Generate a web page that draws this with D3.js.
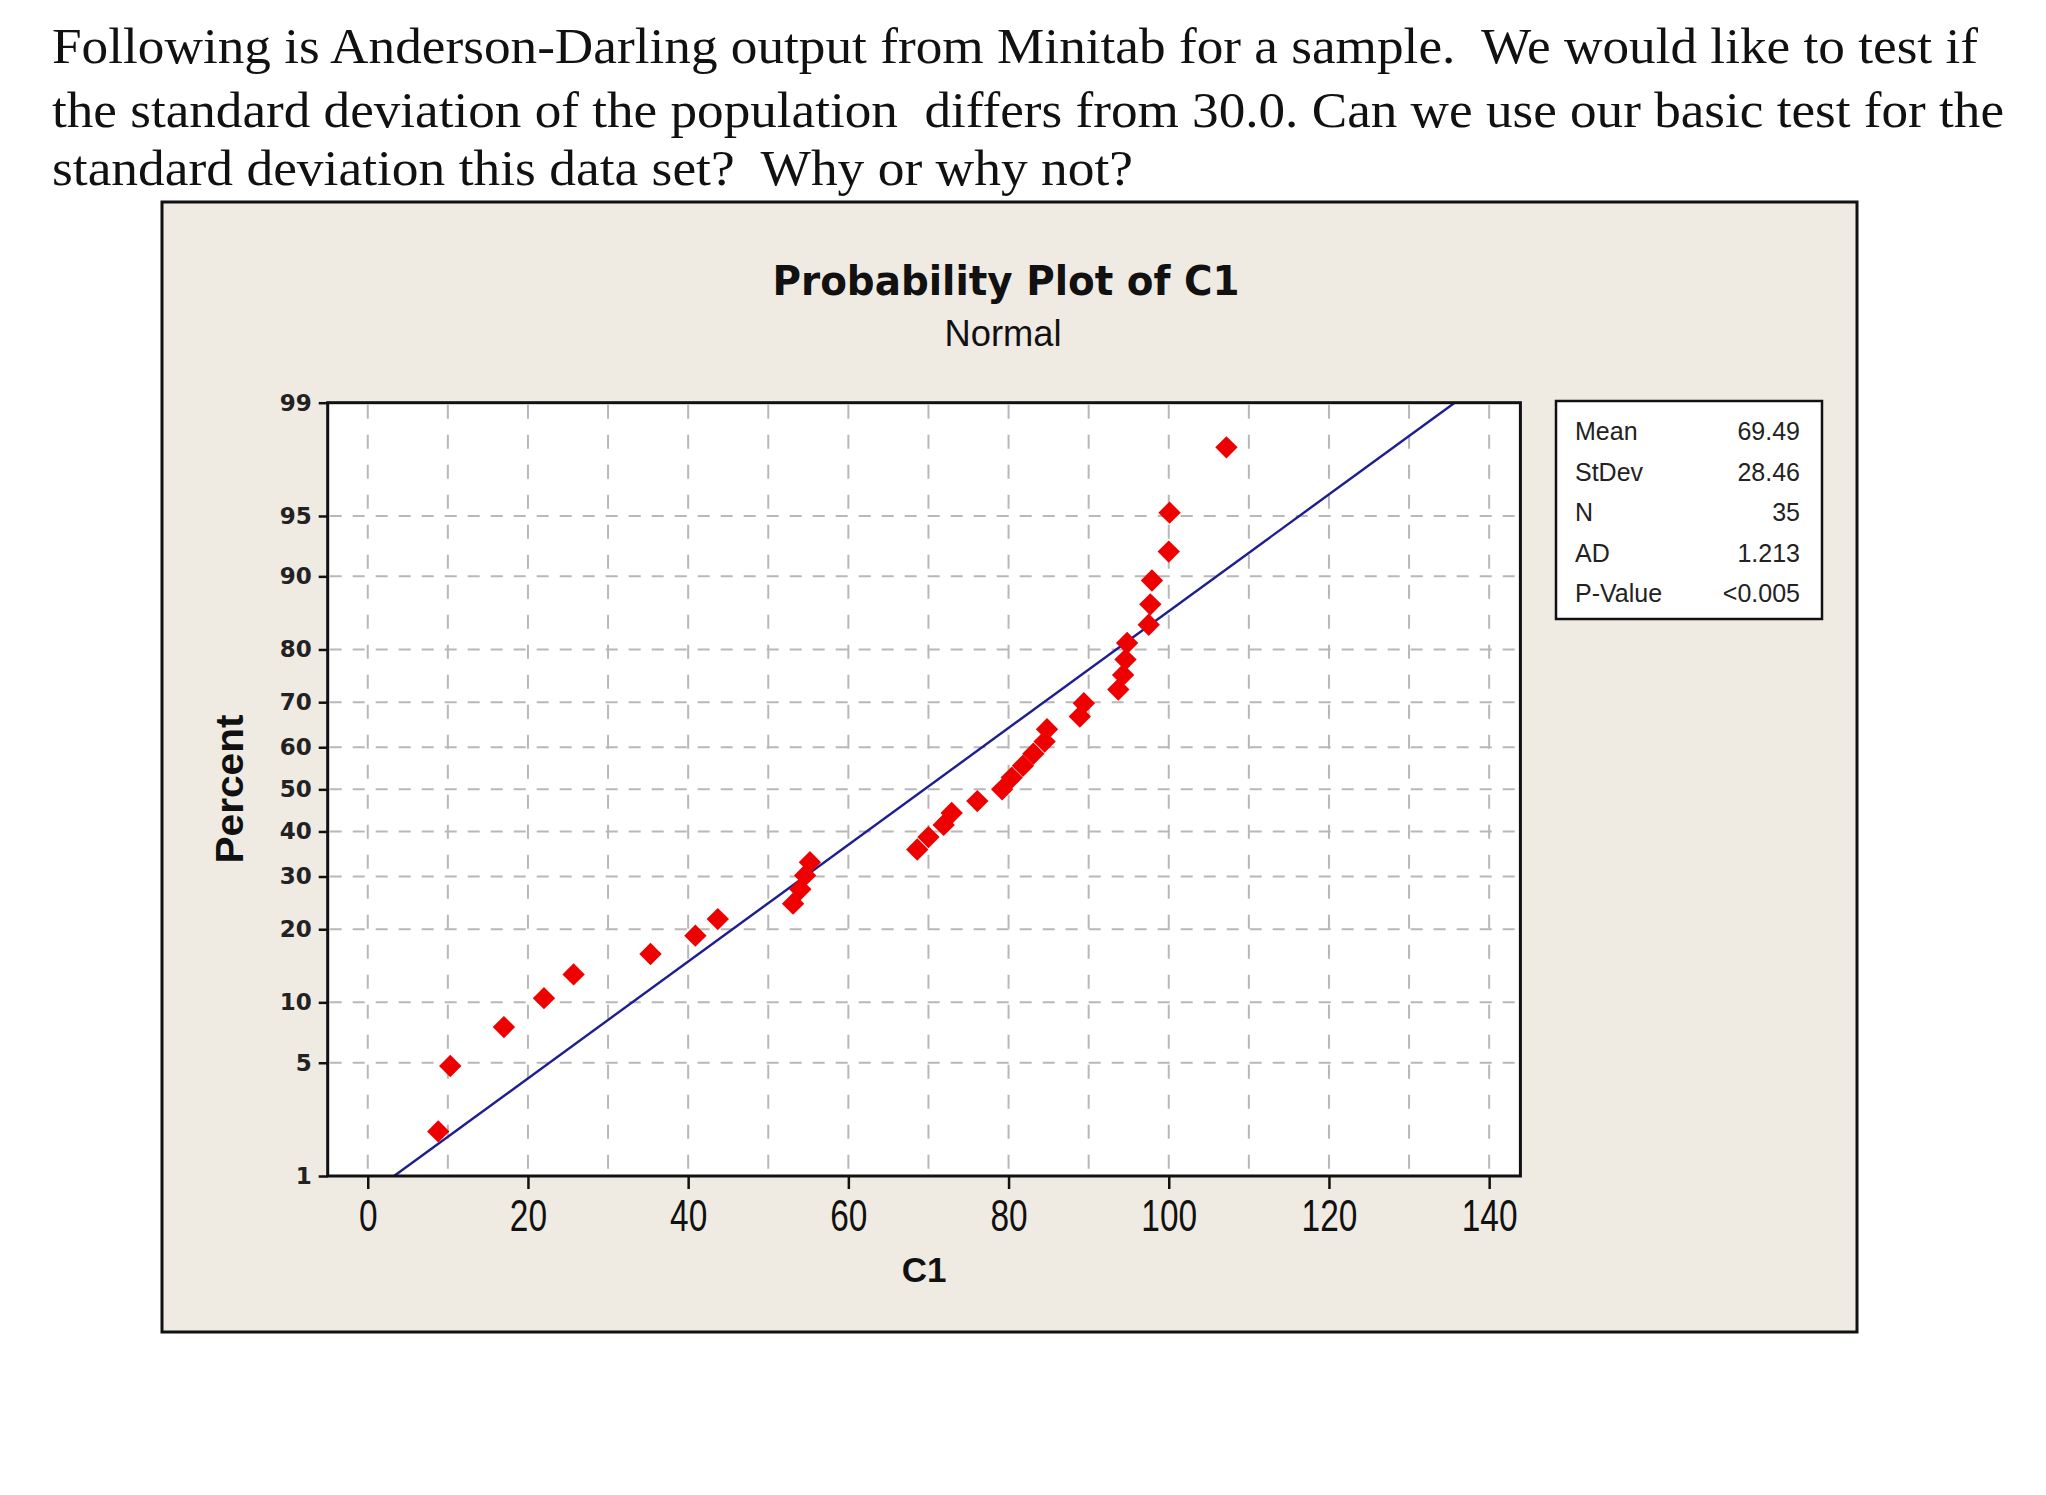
<!DOCTYPE html>
<html>
<head>
<meta charset="utf-8">
<script src="https://cdn.jsdelivr.net/npm/d3@7"></script>
<style>
  html, body { margin: 0; padding: 0; background: #ffffff; }
  svg { display: block; }
  text { white-space: pre; }
</style>
</head>
<body>
<svg id="chart" width="2046" height="1495"></svg>
<script>
// ---------------- DATA ----------------
const questionLines = [
  "Following is Anderson-Darling output from Minitab for a sample.  We would like to test if",
  "the standard deviation of the population  differs from 30.0. Can we use our basic test for the",
  "standard deviation this data set?  Why or why not?"
];
const chartTitle = "Probability Plot of C1";
const chartSubtitle = "Normal";
const xLabel = "C1";
const yLabel = "Percent";

// sample values (C1), sorted
const c1Values = [8.8, 10.3, 17.0, 22.0, 25.7, 35.3, 40.9, 43.7, 53.1, 54.0,
                  54.6, 55.2, 68.6, 70.0, 71.9, 72.9, 76.1, 79.2, 80.4, 81.8,
                  83.1, 84.5, 84.8, 88.9, 89.4, 93.7, 94.3, 94.6, 94.8, 97.5,
                  97.7, 97.9, 100.0, 100.1, 107.2];
// plotted percent for each point
const c1Percents = [1.98, 4.80, 7.63, 10.45, 13.28, 16.10, 18.93, 21.75, 24.58, 27.40,
                    30.23, 33.05, 35.88, 38.70, 41.53, 44.35, 47.18, 50.00, 52.82, 55.65,
                    58.47, 61.30, 64.12, 66.95, 69.77, 72.60, 75.42, 78.25, 81.07, 83.90,
                    86.72, 89.55, 92.37, 95.20, 98.02];

const xTickValues = [0, 20, 40, 60, 80, 100, 120, 140];
const xGridValues = [0, 10, 20, 30, 40, 50, 60, 70, 80, 90, 100, 110, 120, 130, 140];
const yTickValues = [1, 5, 10, 20, 30, 40, 50, 60, 70, 80, 90, 95, 99];
const yGridValues = [5, 10, 20, 30, 40, 50, 60, 70, 80, 90, 95];

const statLabels = ["Mean", "StDev", "N", "AD", "P-Value"];
const statValues = ["69.49", "28.46", "35", "1.213", "<0.005"];
const fitMean = 69.49;
const fitStDev = 28.46;
const fitPercentRange = [1, 99];

// ---------------- HELPERS ----------------
function probit(p) {
  const a = [-3.969683028665376e+01, 2.209460984245205e+02, -2.759285104469687e+02, 1.383577518672690e+02, -3.066479806614716e+01, 2.506628277459239e+00];
  const b = [-5.447609879822406e+01, 1.615858368580409e+02, -1.556989798598866e+02, 6.680131188771972e+01, -1.328068155288572e+01];
  const c = [-7.784894002430293e-03, -3.223964580411365e-01, -2.400758277161838e+00, -2.549732539343734e+00, 4.374664141464968e+00, 2.938163982698783e+00];
  const d = [7.784695709041462e-03, 3.224671290700398e-01, 2.445134137142996e+00, 3.754408661907416e+00];
  const pl = 0.02425, ph = 1 - pl;
  let q, r;
  if (p < pl) {
    q = Math.sqrt(-2 * Math.log(p));
    return (((((c[0]*q+c[1])*q+c[2])*q+c[3])*q+c[4])*q+c[5]) / ((((d[0]*q+d[1])*q+d[2])*q+d[3])*q+1);
  }
  if (p <= ph) {
    q = p - 0.5; r = q * q;
    return (((((a[0]*r+a[1])*r+a[2])*r+a[3])*r+a[4])*r+a[5])*q / (((((b[0]*r+b[1])*r+b[2])*r+b[3])*r+b[4])*r+1);
  }
  q = Math.sqrt(-2 * Math.log(1 - p));
  return -(((((c[0]*q+c[1])*q+c[2])*q+c[3])*q+c[4])*q+c[5]) / ((((d[0]*q+d[1])*q+d[2])*q+d[3])*q+1);
}

// ---------------- LAYOUT ----------------
const svg = d3.select("#chart");
const frame = { x: 162, y: 202, w: 1695, h: 1130 };
const plot = { left: 327.7, right: 1520.4, top: 402.7, bottom: 1176 };

// question text
const qBaselines = [63, 127, 185];
const qWidths = [1926, 1952, 1081];
svg.selectAll("text.q").data(questionLines).join("text")
  .attr("class", "q")
  .attr("x", 52)
  .attr("y", (d, i) => qBaselines[i])
  .attr("textLength", (d, i) => qWidths[i])
  .attr("lengthAdjust", "spacingAndGlyphs")
  .attr("font-family", "'Liberation Serif', 'Times New Roman', serif")
  .attr("font-size", 51)
  .attr("fill", "#111")
  .text(d => d);

// frame
svg.append("rect")
  .attr("x", frame.x).attr("y", frame.y).attr("width", frame.w).attr("height", frame.h)
  .attr("fill", "#efebe3").attr("stroke", "#111").attr("stroke-width", 3);

// scales
const x = d3.scaleLinear().domain([-5, 143.9]).range([plot.left, plot.right]);
const zLin = d3.scaleLinear().domain([probit(0.01), probit(0.99)]).range([plot.bottom, plot.top]);
function makeProbScale() {
  const s = p => zLin(probit(p / 100));
  s.domain = () => [1, 99];
  s.range = () => zLin.range();
  s.copy = () => makeProbScale();
  return s;
}
const y = makeProbScale();

// plot background
svg.append("rect")
  .attr("x", plot.left).attr("y", plot.top)
  .attr("width", plot.right - plot.left).attr("height", plot.bottom - plot.top)
  .attr("fill", "#ffffff");

// gridlines
const grid = svg.append("g");
grid.selectAll("line.vg").data(xGridValues).join("line")
  .attr("x1", d => x(d)).attr("x2", d => x(d))
  .attr("y1", plot.top + 2).attr("y2", plot.bottom - 2)
  .attr("stroke", "#b8b8b8").attr("stroke-width", 2)
  .attr("stroke-dasharray", "14,16");
grid.selectAll("line.hg").data(yGridValues).join("line")
  .attr("x1", plot.left + 2).attr("x2", plot.right - 2)
  .attr("y1", d => y(d)).attr("y2", d => y(d))
  .attr("stroke", "#b8b8b8").attr("stroke-width", 2)
  .attr("stroke-dasharray", "12,11");

// fitted line
const fitLine = fitPercentRange.map(p => [fitMean + fitStDev * probit(p / 100), p]);
svg.append("path")
  .datum(fitLine)
  .attr("d", d3.line().x(d => x(d[0])).y(d => y(d[1])))
  .attr("fill", "none").attr("stroke", "#1e1e92").attr("stroke-width", 2.4);

// points
const pts = c1Values.map((v, i) => ({ v, p: c1Percents[i] }));
svg.append("g").selectAll("path").data(pts).join("path")
  .attr("transform", d => `translate(${x(d.v)},${y(d.p)}) rotate(45)`)
  .attr("d", d3.symbol(d3.symbolSquare, 250))
  .attr("fill", "#ee0000");

// plot border
svg.append("rect")
  .attr("x", plot.left).attr("y", plot.top)
  .attr("width", plot.right - plot.left).attr("height", plot.bottom - plot.top)
  .attr("fill", "none").attr("stroke", "#111").attr("stroke-width", 3);

// x axis
const xAxisG = svg.append("g")
  .attr("transform", `translate(0,${plot.bottom})`)
  .call(d3.axisBottom(x).tickValues(xTickValues).tickFormat(d3.format("d")).tickSize(13).tickSizeOuter(0).tickPadding(11));
xAxisG.select(".domain").remove();
xAxisG.selectAll(".tick line").attr("stroke", "#111").attr("stroke-width", 2.5);
xAxisG.selectAll(".tick text")
  .attr("font-family", "'Liberation Sans', Arial, sans-serif")
  .attr("font-size", 44)
  .attr("fill", "#111")
  .attr("transform", "scale(0.76,1)");

// y axis
const yAxisG = svg.append("g")
  .attr("transform", `translate(${plot.left},0)`)
  .call(d3.axisLeft(y).tickValues(yTickValues).tickFormat(d => String(d)).tickSize(9).tickSizeOuter(0).tickPadding(7));
yAxisG.select(".domain").remove();
yAxisG.selectAll(".tick line").attr("stroke", "#111").attr("stroke-width", 2.5);
yAxisG.selectAll(".tick text")
  .attr("font-family", "'DejaVu Sans', Verdana, sans-serif")
  .attr("font-weight", "bold")
  .attr("font-size", 23)
  .attr("fill", "#222");

// titles
svg.append("text")
  .attr("x", 1006).attr("y", 295)
  .attr("text-anchor", "middle")
  .attr("font-family", "'DejaVu Sans', Verdana, sans-serif")
  .attr("font-weight", "bold")
  .attr("font-size", 41)
  .attr("textLength", 467).attr("lengthAdjust", "spacingAndGlyphs")
  .attr("fill", "#111")
  .text(chartTitle);
svg.append("text")
  .attr("x", 1003).attr("y", 346)
  .attr("text-anchor", "middle")
  .attr("font-family", "'Liberation Sans', Arial, sans-serif")
  .attr("font-size", 37)
  .attr("textLength", 117).attr("lengthAdjust", "spacingAndGlyphs")
  .attr("fill", "#111")
  .text(chartSubtitle);

// axis labels
svg.append("text")
  .attr("x", (plot.left + plot.right) / 2).attr("y", 1282)
  .attr("text-anchor", "middle")
  .attr("font-family", "'Liberation Sans', Arial, sans-serif")
  .attr("font-weight", "bold")
  .attr("font-size", 35)
  .attr("fill", "#111")
  .text(xLabel);
svg.append("text")
  .attr("transform", `translate(243,789) rotate(-90)`)
  .attr("text-anchor", "middle")
  .attr("font-family", "'Liberation Sans', Arial, sans-serif")
  .attr("font-weight", "bold")
  .attr("font-size", 39)
  .attr("textLength", 149).attr("lengthAdjust", "spacingAndGlyphs")
  .attr("fill", "#111")
  .text(yLabel);

// stats box
const box = { x: 1556, y: 401, w: 266, h: 218 };
svg.append("rect")
  .attr("x", box.x).attr("y", box.y).attr("width", box.w).attr("height", box.h)
  .attr("fill", "#ffffff").attr("stroke", "#111").attr("stroke-width", 2.5);
const statBaselines = [440, 480.5, 521, 561.5, 602];
svg.selectAll("text.sl").data(statLabels).join("text")
  .attr("class", "sl")
  .attr("x", 1575).attr("y", (d, i) => statBaselines[i])
  .attr("font-family", "'Liberation Sans', Arial, sans-serif")
  .attr("font-size", 25)
  .attr("fill", "#222")
  .text(d => d);
svg.selectAll("text.sv").data(statValues).join("text")
  .attr("class", "sv")
  .attr("x", 1800).attr("y", (d, i) => statBaselines[i])
  .attr("text-anchor", "end")
  .attr("font-family", "'Liberation Sans', Arial, sans-serif")
  .attr("font-size", 25)
  .attr("fill", "#222")
  .text(d => d);
</script>
</body>
</html>
